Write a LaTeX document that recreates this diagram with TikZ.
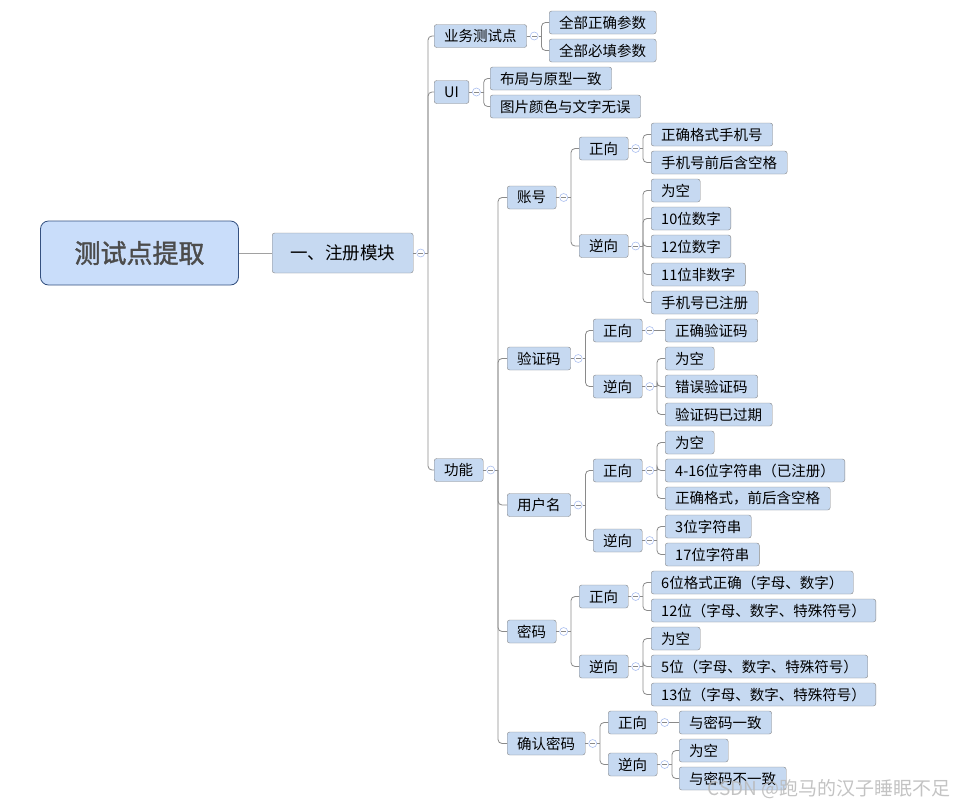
\documentclass[tikz,border=0pt]{standalone}
\usepackage{fontspec}
\setmainfont{Noto Sans CJK SC}
\newfontfamily\rootfont[FakeBold=1.5]{Noto Sans CJK SC}
\definecolor{Topic}{HTML}{C6D9F1}
\definecolor{RootFill}{HTML}{C9DDFA}
\definecolor{RootLine}{HTML}{34507F}
\definecolor{Edge}{HTML}{8A8A8A}
\definecolor{Fold}{HTML}{ABBFEF}

\begin{document}
\begin{tikzpicture}[x=1pt,y=-1pt,
    link/.style={draw=Edge,line width=0.8pt,rounded corners=4pt},
    item/.style={draw=gray!95,fill=Topic,rounded corners=2.5pt,anchor=west,minimum height=23pt,
      inner xsep=10pt,inner ysep=0pt,font=\fontsize{14.5}{16}\selectfont},
    main/.style={item,minimum height=40pt,inner xsep=18pt,font=\fontsize{17.5}{19}\selectfont},
    root/.style={draw=RootLine,fill=RootFill,rounded corners=8pt,minimum width=198pt,minimum height=64pt,
      line width=0.8pt,text=black!70,font=\rootfont\fontsize{26}{28}\selectfont},
    fold/.style={circle,draw=Fold,fill=white,inner sep=0pt,minimum size=8pt,anchor=west,line width=0.6pt,
      path picture={\draw[Edge,line width=0.6pt] ([xshift=-2.4pt]path picture bounding box.center)
        -- ([xshift=2.4pt]path picture bounding box.center);}}]
  \useasboundingbox (0,0) rectangle (971,806);
  % root and first level
  \node[root] (root) at (139.5,253) {测试点提取};
  \node[main] (reg) at (272,253) {一、注册模块};
  \node[item] (biz) at (434,36) {业务测试点};
  \node[item] (ui) at (434,92) {UI};
  \node[item] (func) at (434,470) {功能};
  \node[item] (biz1) at (549,22.5) {全部正确参数};
  \node[item] (biz2) at (549,50.5) {全部必填参数};
  \node[item] (ui1) at (490,78.5) {布局与原型一致};
  \node[item] (ui2) at (490,106.5) {图片颜色与文字无误};
  % functions
  \node[item] (acc) at (507,197.5) {账号};
  \node[item] (code) at (507,358.5) {验证码};
  \node[item] (user) at (507,505) {用户名};
  \node[item] (pwd) at (507,631.5) {密码};
  \node[item] (cfm) at (507,743.5) {确认密码};
  % account
  \node[item] (acc-p) at (579,148.5) {正向};
  \node[item] (acc-n) at (579,246) {逆向};
  \node[item] (acc-p1) at (651,134.5) {正确格式手机号};
  \node[item] (acc-p2) at (651,162.5) {手机号前后含空格};
  \node[item] (acc-n1) at (651,190.5) {为空};
  \node[item] (acc-n2) at (651,218.5) {10位数字};
  \node[item] (acc-n3) at (651,246.5) {12位数字};
  \node[item] (acc-n4) at (651,274.5) {11位非数字};
  \node[item] (acc-n5) at (651,302.5) {手机号已注册};
  % verification code
  \node[item] (code-p) at (593,330.5) {正向};
  \node[item] (code-n) at (593,386.5) {逆向};
  \node[item] (code-p1) at (665,330.5) {正确验证码};
  \node[item] (code-n1) at (665,358.5) {为空};
  \node[item] (code-n2) at (665,386.5) {错误验证码};
  \node[item] (code-n3) at (665,414.5) {验证码已过期};
  % user name
  \node[item] (user-p) at (593,470.5) {正向};
  \node[item] (user-n) at (593,540.5) {逆向};
  \node[item] (user-p1) at (665,442.5) {为空};
  \node[item] (user-p2) at (665,470.5) {4-16位字符串（已注册）};
  \node[item] (user-p3) at (665,498.5) {正确格式，前后含空格};
  \node[item] (user-n1) at (665,526.5) {3位字符串};
  \node[item] (user-n2) at (665,554.5) {17位字符串};
  % password
  \node[item] (pwd-p) at (579,596.5) {正向};
  \node[item] (pwd-n) at (579,666.5) {逆向};
  \node[item] (pwd-p1) at (651,582.5) {6位格式正确（字母、数字）};
  \node[item] (pwd-p2) at (651,610.5) {12位（字母、数字、特殊符号）};
  \node[item] (pwd-n1) at (651,638.5) {为空};
  \node[item] (pwd-n2) at (651,666.5) {5位（字母、数字、特殊符号）};
  \node[item] (pwd-n3) at (651,694.5) {13位（字母、数字、特殊符号）};
  % confirm password
  \node[item] (cfm-p) at (608,722.5) {正向};
  \node[item] (cfm-n) at (608,764.5) {逆向};
  \node[item] (cfm-p1) at (679,722.5) {与密码一致};
  \node[item] (cfm-n1) at (679,750.5) {为空};
  \node[item] (cfm-n2) at (679,778.5) {与密码不一致};

  \draw[link,draw=Edge!80] (root) -- (reg);
  % fold marks and junctions
  \foreach \p in {reg,biz,ui,func,acc,code,user,pwd,cfm,acc-p,acc-n,code-p,code-n,user-p,user-n,pwd-p,pwd-n,cfm-p,cfm-n}{
    \node[fold] (\p-f) at ([xshift=3pt]\p.east) {};
    \draw[link] (\p) -- (\p-f);
    \draw[link] (\p-f.east) -- ++(3,0) coordinate (\p-j);
  }
  \foreach \u/\v in {reg/biz,reg/ui,reg/func,biz/biz1,biz/biz2,ui/ui1,ui/ui2,
      func/acc,func/code,func/user,func/pwd,func/cfm,acc/acc-p,acc/acc-n,
      acc-p/acc-p1,acc-p/acc-p2,acc-n/acc-n1,acc-n/acc-n2,acc-n/acc-n3,acc-n/acc-n4,acc-n/acc-n5,
      code/code-p,code/code-n,code-n/code-n1,code-n/code-n2,code-n/code-n3,
      user/user-p,user/user-n,user-p/user-p1,user-p/user-p2,user-p/user-p3,user-n/user-n1,user-n/user-n2,
      pwd/pwd-p,pwd/pwd-n,pwd-p/pwd-p1,pwd-p/pwd-p2,pwd-n/pwd-n1,pwd-n/pwd-n2,pwd-n/pwd-n3,
      cfm/cfm-p,cfm/cfm-n,cfm-n/cfm-n1,cfm-n/cfm-n2}
    \draw[link] (\u-j) |- (\v.west);
  % single children
  \foreach \u/\v in {code-p/code-p1,cfm-p/cfm-p1}
    \draw[link] (\u-j) -- (\v.west);
  \node[text=gray!55,opacity=0.85,font=\fontsize{19}{21}\selectfont] (mark) at (829,789) {CSDN @跑马的汉子睡眠不足};
\end{tikzpicture}
\end{document}
